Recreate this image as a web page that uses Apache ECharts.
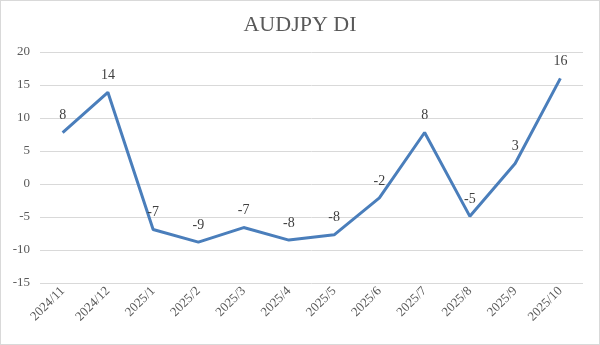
<!DOCTYPE html>
<html><head><meta charset="utf-8">
<script src="https://cdn.jsdelivr.net/npm/echarts@6/dist/echarts.min.js"></script>
<style>
html,body{margin:0;padding:0;background:#fff;}
#c{width:600px;height:345px;box-sizing:border-box;border:1px solid #d9d9d9;}
</style></head>
<body><div id="c"></div>
<script>
const categories = ['2024/11','2024/12','2025/1','2025/2','2025/3','2025/4','2025/5','2025/6','2025/7','2025/8','2025/9','2025/10'];
const values = [7.8, 13.9, -6.9, -8.8, -6.6, -8.5, -7.7, -2.1, 7.8, -4.9, 3.1, 16.0];
const yTicks = { min: -15, max: 20, interval: 5 };
const titleText = 'AUDJPY DI';

const serif = '"Liberation Serif", "DejaVu Serif", serif';
const chart = echarts.init(document.getElementById('c'), null, {renderer:'canvas'});
chart.setOption({
  animation: false,
  title: { text: titleText, left: 'center', top: 8,
    textStyle: { fontFamily: serif, fontSize: 22, fontWeight: 'normal', color: '#595959' } },
  grid: { left: 39, right: 16, top: 51, bottom: 61, containLabel: false },
  xAxis: { type: 'category', data: categories, boundaryGap: true,
    axisLine: { show: false }, axisTick: { show: false },
    axisLabel: { rotate: 45, margin: 6, fontFamily: serif, fontSize: 13, color: '#595959' } },
  yAxis: { type: 'value', min: yTicks.min, max: yTicks.max, interval: yTicks.interval,
    axisLine: { show: false }, axisTick: { show: false },
    splitLine: { lineStyle: { color: '#d9d9d9', width: 1 } },
    axisLabel: { fontFamily: serif, fontSize: 13, color: '#595959', margin: 10 } },
  series: [{
    type: 'line', data: values, symbol: 'circle', symbolSize: 2, showSymbol: true,
    itemStyle: { color: 'rgba(74,126,187,0)', borderWidth: 0 },
    lineStyle: { color: '#4a7ebb', width: 3 },
    label: { show: true, position: 'top', distance: 9,
      formatter: p => String(Math.round(p.value)),
      fontFamily: serif, fontSize: 14, color: '#404040' },
    labelLayout: { hideOverlap: false }
  }]
});
</script></body></html>
